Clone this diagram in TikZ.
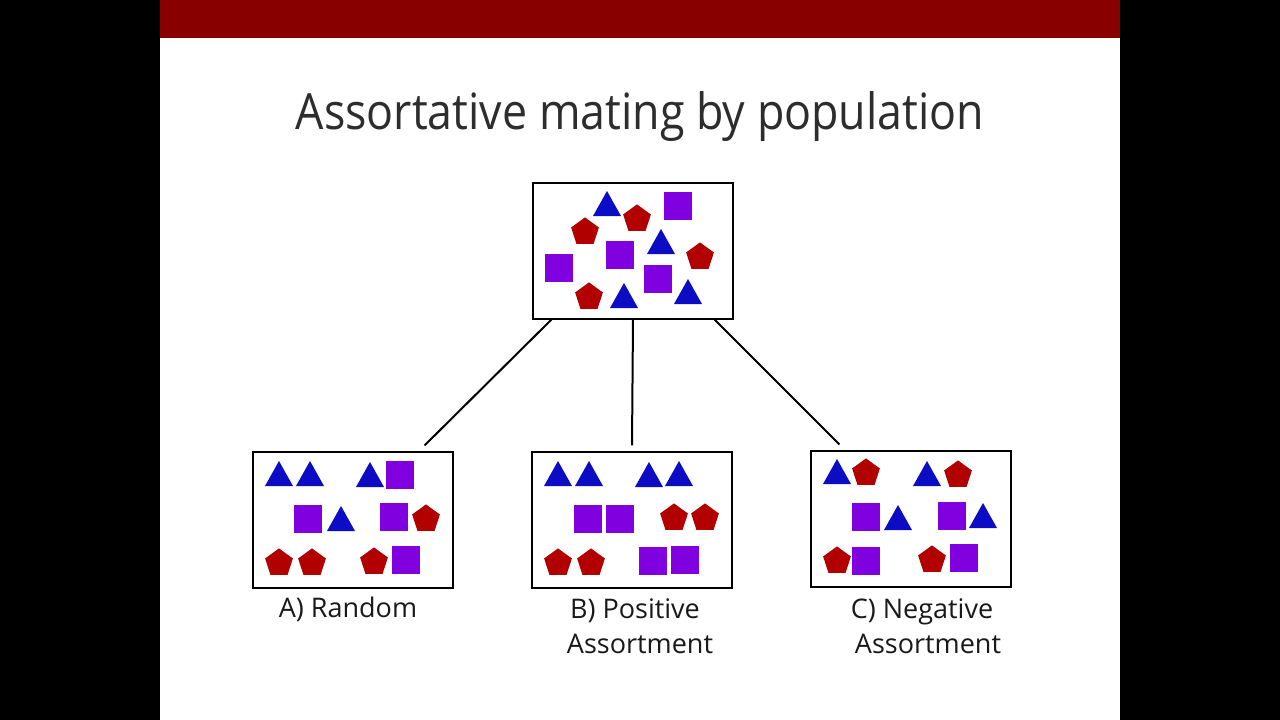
\documentclass[tikz,border=0pt]{standalone}
\usepackage{fontspec}
\setmainfont{Open Sans}
\definecolor{barred}{RGB}{136,0,0}
\definecolor{triblue}{RGB}{12,12,196}
\definecolor{sqpurple}{RGB}{128,0,224}
\definecolor{pentred}{RGB}{178,0,0}
\definecolor{titlegray}{RGB}{45,45,45}
\tikzset{
  tri/.pic={\fill[triblue] (-14,0) -- (14,0) -- (0,-25) -- cycle;},
  sq/.pic={\fill[sqpurple] (-14,-14) rectangle (14,14);},
  pent/.pic={\fill[pentred] (-90:14.6) -- (-18:14.6) -- (54:14.6) -- (126:14.6) -- (198:14.6) -- cycle;},
  popbox/.style={draw,line width=1.1pt,minimum width=200pt,minimum height=136pt,inner sep=0pt},
  link/.style={line width=2pt},
  lbl/.style={anchor=base,inner sep=0pt,text=black!90,font=\fontsize{27}{32}\selectfont}
}
\begin{document}
\begin{tikzpicture}[x=1pt,y=-1pt]
                \useasboundingbox (0,0) rectangle (1280,720);
                \fill[black] (0,0) rectangle (1280,720);
                \fill[white] (160,0) rectangle (1120,720);
                \fill[barred] (160,0) rectangle (1120,38);
                \node[anchor=base,inner sep=0pt,text=titlegray,font=\fontsize{50}{60}\selectfont] (title) at (640,129) {\scalebox{0.895}[1]{Assortative mating by population}};
                % population and the three outcomes
                \node[popbox] (pop) at (633,251) {};
                \node[popbox] (rand) at (353,520) {};
                \node[popbox] (pos) at (632,520) {};
                \node[popbox] (neg) at (911,519) {};
                \draw[link] ([xshift=19pt]pop.south west) -- ([xshift=-29pt,yshift=6pt]rand.north east);
                \draw[link] (pop.south) -- ([yshift=6pt]pos.north);
                \draw[link] ([xshift=-19pt]pop.south east) -- ([xshift=29pt,yshift=6pt]neg.north west);
                % individuals
                \foreach \x/\y in {607/216,661/254,624/308,688/304, 279/486,310/486,370/487,341/531,
                    558/486,589/486,649/487,679/486, 837/484,927/486,898/530,983/528}
                    \pic at (\x,\y) {tri};
                \foreach \x/\y in {678/206,620/255,559/268,658/279, 400/475,308/519,394/517,406/560,
                    588/519,620/519,653/561,685/560, 866/517,952/516,866/561,964/558}
                    \pic at (\x,\y) {sq};
                \foreach \x/\y in {637/219,585/232,700/257,589/297, 279/563,312/563,374/562,426/519,
                    674/518,705/518,558/563,591/563, 866/473,958/475,837/561,932/560}
                    \pic at (\x,\y) {pent};
                % labels
                \node[lbl] (labA) at (348,617) {A) Random};
                \node[lbl] (labB1) at (635,618) {B) Positive};
                \node[lbl] (labB2) at (640,653) {Assortment};
                \node[lbl] (labC1) at (922,618) {C) Negative};
                \node[lbl] (labC2) at (928,653) {Assortment};
            \end{tikzpicture}
\end{document}
